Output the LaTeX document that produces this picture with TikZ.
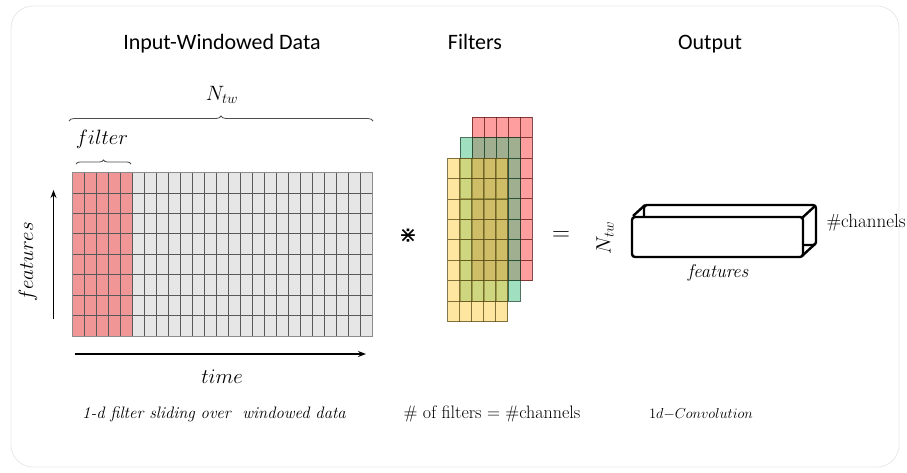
\documentclass[tikz,border=0pt]{standalone}
\usepackage{fontspec}
\newfontfamily\titlefont{Carlito}
\newfontfamily\symfont{DejaVu Sans}
\usetikzlibrary{decorations.pathreplacing,arrows.meta}
\definecolor{cellred}{RGB}{241,150,150}
\definecolor{cellgray}{RGB}{230,230,230}
\definecolor{fred}{RGB}{255,61,61}
\definecolor{fgreen}{RGB}{65,193,129}
\definecolor{fyellow}{RGB}{255,205,65}
\definecolor{framegray}{RGB}{232,232,232}
\tikzset{
  titletext/.style={font=\titlefont\fontsize{22}{26}\selectfont, anchor=base},
  mathlabel/.style={font=\fontsize{19.5}{22}\selectfont},
  captiontext/.style={font=\fontsize{18}{21}\selectfont, anchor=base},
  gridline/.style={draw=black!65, line width=0.7pt},
  gridframe/.style={draw=black!45, line width=1pt},
  bracestyle/.style={draw=black!70, line width=0.8pt, decorate, decoration={brace, amplitude=5pt}},
  axisarrow/.style={draw=black, line width=1.3pt, -{Stealth[length=8pt,width=6pt]}},
  boxline/.style={draw=black, line width=2.4pt, rounded corners=3pt, line join=round},
  layer/.style={fill opacity=0.5, draw opacity=0.75, line width=0.7pt}
}
\begin{document}
\begin{tikzpicture}[x=1pt,y=-1pt]
\useasboundingbox (0,0) rectangle (907,472);
% frame
\draw[framegray, line width=0.8pt, rounded corners=22pt] (11,6) rectangle (899,467);

% titles
\node[titletext] (t1) at (222,49) {Input-Windowed Data};
\node[titletext] (t2) at (475,49) {Filters};
\node[titletext] (t3) at (710,49) {Output};

% input grid
\fill[cellgray] (132,172.5) rectangle (372,336);
\fill[cellred] (72,172.5) rectangle (132,336);
\foreach \i in {1,...,24} \draw[gridline] ({72+12*\i},172.5) -- ({72+12*\i},336);
\foreach \j in {1,...,7} \draw[gridline] (72,{172.5+20.4375*\j}) -- (372,{172.5+20.4375*\j});
\draw[gridframe] (72,172.5) rectangle (372,336);

% braces
\coordinate (bA) at (69,121);
\coordinate (bB) at (373,121);
\draw[bracestyle] (bA) -- (bB);
\node[mathlabel] (ntw) at (222,95) {$N_{tw}$};
\coordinate (fA) at (76,164);
\coordinate (fB) at (131,164);
\draw[bracestyle, decoration={brace, amplitude=4pt}] (fA) -- (fB);
\node[mathlabel] (filt) at (102,139) {$filter$};

% axes
\coordinate (fy0) at (53.5,319);
\coordinate (fy1) at (53.5,190);
\draw[axisarrow] (fy0) -- (fy1);
\node[mathlabel, rotate=90] (feat) at (28,262) {$features$};
\coordinate (tx0) at (75,354);
\coordinate (tx1) at (366,354);
\draw[axisarrow] (tx0) -- (tx1);
\node[mathlabel] (time) at (222,377) {$time$};

% filters
\foreach \x/\y/\c in {472/117/fred, 460/137.5/fgreen, 447.5/158/fyellow}{
  \begin{scope}[layer]
    \fill[\c] (\x,\y) rectangle ({\x+60},{\y+163.5});
    \foreach \i in {1,...,4} \draw[\c!35!black] ({\x+12*\i},\y) -- ({\x+12*\i},{\y+163.5});
    \foreach \j in {1,...,7} \draw[\c!35!black] (\x,{\y+20.4375*\j}) -- ({\x+60},{\y+20.4375*\j});
    \draw[\c!35!black] (\x,\y) rectangle ({\x+60},{\y+163.5});
  \end{scope}
}

% operators
\node[font=\symfont\fontsize{22}{22}\selectfont] (star) at (408,236) {⋇};
\node[font=\fontsize{23}{23}\selectfont] (eq) at (561,236) {$=$};

% output box
\draw[boxline] (644,205) rectangle (816,245);
\draw[boxline, fill=white] (632,217) rectangle (803,257);
\draw[boxline] (633,216) -- (645,205);
\draw[boxline] (802,218) -- (815,206);
\draw[boxline] (802,256) -- (815,244);
\node[mathlabel, rotate=90] (ontw) at (605,238) {$N_{tw}$};
\node[font=\itshape\fontsize{18.5}{21}\selectfont] (ofeat) at (718,273) {features};
\node[font=\fontsize{19}{22}\selectfont, anchor=west] (chan) at (823,223) {\#channels};

% captions
\node[captiontext, font=\itshape\fontsize{16.6}{19}\selectfont] (c1) at (214,418) {1-d filter sliding over\ \ windowed data};
\node[captiontext] (c2) at (492,418) {\# of filters = \#channels};
\node[captiontext, font=\fontsize{15.8}{18}\selectfont] (c3) at (701,418) {$1d{-}Convolution$};
\end{tikzpicture}
\end{document}
